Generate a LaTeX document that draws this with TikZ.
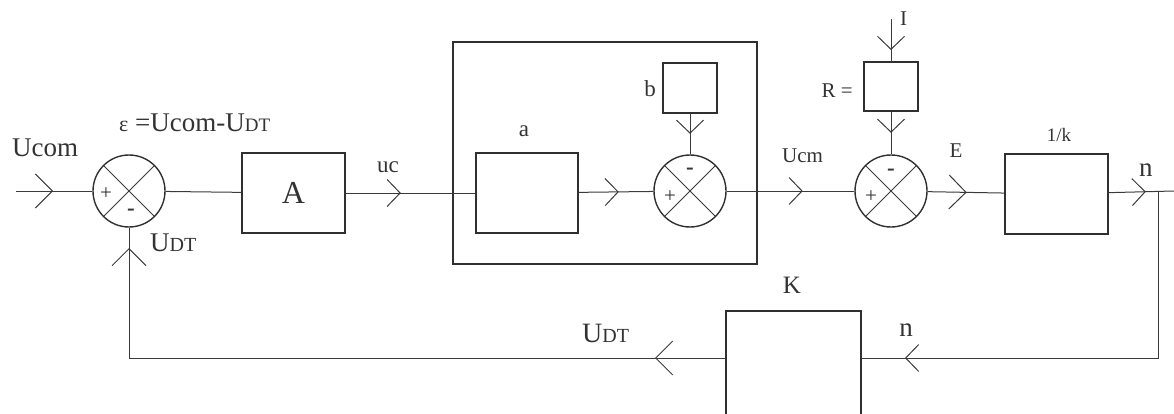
\documentclass[tikz,border=0pt]{standalone}
\usepackage{fontspec}
\setmainfont{Liberation Serif}
\usetikzlibrary{arrows.meta,decorations.markings}
\definecolor{cLine}{HTML}{3A3A3A}
\definecolor{cBox}{HTML}{303030}
\definecolor{cText}{HTML}{333333}
\newcommand{\fs}[1]{\fontsize{#1}{#1}\selectfont}
\tikzset{
  blk/.style={draw=cBox,line width=1.6pt,inner sep=0pt},
  summing/.style={draw=cBox,line width=1.4pt,circle,minimum size=72pt,inner sep=0pt,
    path picture={\draw[cLine,line width=1pt]
      (path picture bounding box.north west) -- (path picture bounding box.south east)
      (path picture bounding box.north east) -- (path picture bounding box.south west);}},
  wire/.style={draw=cLine,line width=1pt},
  chev/.tip={Straight Barb[length=13pt,width=27pt,line width=1pt]},
  chevbig/.tip={Straight Barb[length=17pt,width=34pt,line width=1pt]},
  midarr/.style={postaction={decorate,decoration={markings,
    mark=at position #1 with {\arrow{chev}}}}},
  midarrbig/.style={postaction={decorate,decoration={markings,
    mark=at position #1 with {\arrow{chevbig}}}}},
  lbl/.style={inner sep=0pt,text=cText,anchor=base},
  sgn/.style={inner sep=0pt,text=cText,font=\fs{21}},
  sgnm/.style={inner sep=0pt,text=cText,font=\bfseries\fs{23}},
}
\begin{document}
\begin{tikzpicture}[x=1pt,y=-1pt]
  \useasboundingbox (0,0) rectangle (1174,414);
  \clip (0,0) rectangle (1174,414);
  % blocks
  \node[summing] (s1) at (129,191) {};
  \node[blk,minimum width=103pt,minimum height=80pt,font=\fs{32},text=cText] (A) at (293.5,193) {A};
  \node[blk,minimum width=304pt,minimum height=222pt] (grp) at (605,153) {};
  \node[blk,minimum width=102pt,minimum height=80pt] (a) at (527,193) {};
  \node[summing] (s2) at (690,191) {};
  \node[blk,minimum width=54pt,minimum height=50pt] (b) at (690,88) {};
  \node[summing] (s3) at (891,191) {};
  \node[blk,minimum width=54pt,minimum height=49pt] (R) at (891,86.5) {};
  \node[blk,minimum width=103pt,minimum height=80pt] (k) at (1056.5,194) {};
  \node[blk,minimum width=135pt,minimum height=130pt,anchor=north west] (K) at (725,310) {};
  \coordinate (in) at (16,191);
  \coordinate (itop) at (891,19);
  \coordinate (br) at (1158,191);
  \coordinate (out) at (1174,191);
  % signs
  \node[sgn] (p1) at (106,194) {+};
  \node[sgnm] (m1) at (131,212) {-};
  \node[sgn] (p2) at (670,197) {+};
  \node[sgnm] (m2) at (690,171) {-};
  \node[sgn] (p3) at (871,197) {+};
  \node[sgnm] (m3) at (891,172) {-};
  % connectors
  \draw[wire,midarrbig=37pt] (in) -- (s1);
  \draw[wire] (s1) -- (A);
  \draw[wire,midarr=55pt] (A) -- (a);
  \draw[wire,midarr=40pt] (a) -- (s2);
  \draw[wire,midarr=20pt] (b) -- (s2);
  \draw[wire,midarr=76pt] (s2) -- (s3);
  \draw[wire,midarr=31pt] (itop) -- (R);
  \draw[wire,midarr=21pt] (R) -- (s3);
  \draw[wire,midarrbig=39pt] (s3) -- (k);
  \draw[wire,midarr=37pt] (k) -- (out);
  \draw[wire,midarr=420pt] (br) |- ([yshift=-48pt]K.north east);
  \draw[wire,midarrbig=70pt,midarrbig=706pt] ([yshift=-48pt]K.north west) -| (s1);
  % labels
  \node[lbl,anchor=base west,font=\fs{27}] (lUcom) at (12,157) {Ucom};
  \node[lbl,anchor=base west,font=\fs{27}] (lerr) at (119,132) {{\fs{22}ε} =Ucom-U{\fs{19}DT}};
  \node[lbl,anchor=base west,font=\fs{27}] (lUdt1) at (150,251) {U{\fs{20}DT}};
  \node[lbl,font=\fs{23}] (luc) at (388,173) {uc};
  \node[lbl,font=\fs{23}] (la) at (524,137) {a};
  \node[lbl,anchor=base east,font=\fs{23}] (lb) at (656,97) {b};
  \node[lbl,anchor=base west,font=\fs{21}] (lUcm) at (782,163) {Ucm};
  \node[lbl,anchor=base east,font=\fs{21}] (lR) at (853,98) {R =};
  \node[lbl,anchor=base west,font=\fs{21}] (lI) at (900,26) {I};
  \node[lbl,font=\fs{21}] (lE) at (956,158) {E};
  \node[lbl,font=\fs{19}] (lk) at (1059,142) {1/k};
  \node[lbl,anchor=base west,font=\fs{27}] (ln1) at (1139,176) {n};
  \node[lbl,font=\fs{25}] (lK) at (792,293) {K};
  \node[lbl,font=\fs{27}] (ln2) at (906,336) {n};
  \node[lbl,anchor=base west,font=\fs{28}] (lUdt2) at (582,342) {U{\fs{20}DT}};
\end{tikzpicture}
\end{document}
